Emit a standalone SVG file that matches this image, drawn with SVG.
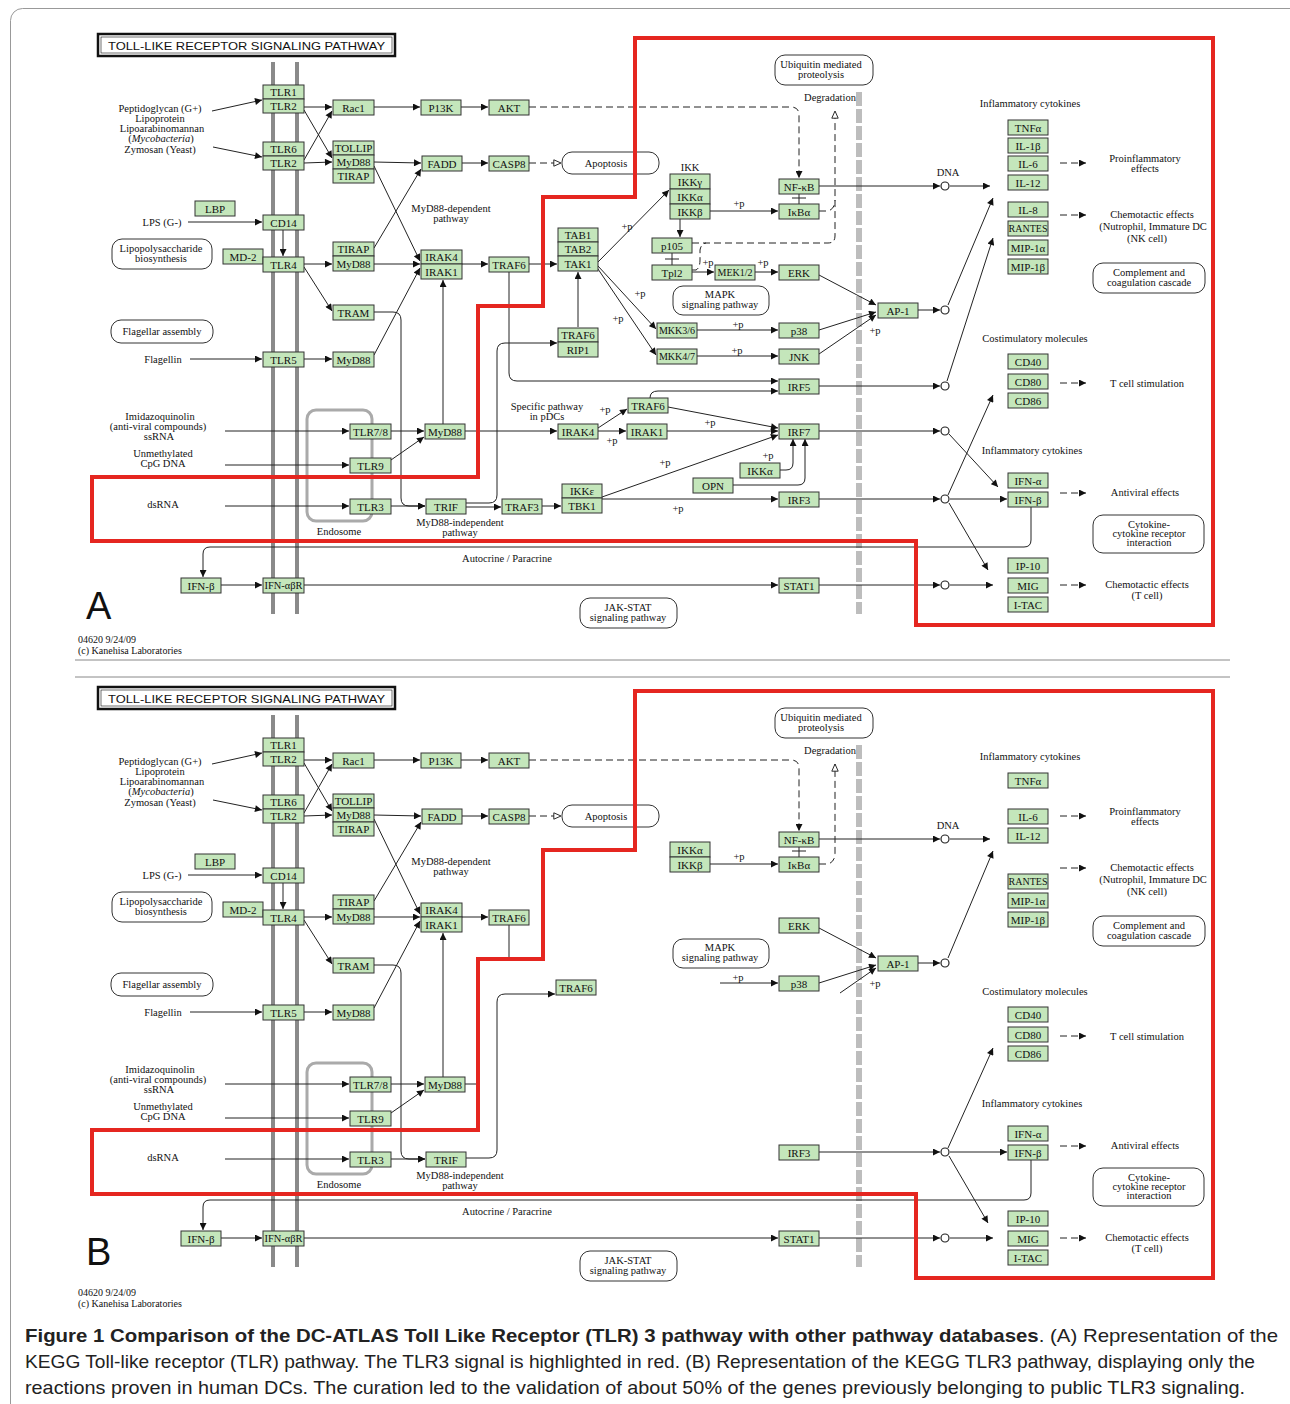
<svg xmlns="http://www.w3.org/2000/svg" width="1290" height="1404" viewBox="0 0 1290 1404">
<defs>
<style>
.n rect{fill:#c4e6bb;stroke:#333;stroke-width:1}
.n text{font-family:"Liberation Serif","DejaVu Serif",serif;font-size:11px;text-anchor:middle;fill:#111}
.n text.s{font-size:10px}
.lb{font-family:"Liberation Serif","DejaVu Serif",serif;font-size:10.5px;text-anchor:middle;fill:#111}
.rb rect{fill:#fff;stroke:#333;stroke-width:1}
.c path{fill:none;stroke:#222;stroke-width:1}
.c .ar{marker-end:url(#a)}
.c .ds{stroke-dasharray:7 4}
.c .op{marker-end:url(#o)}
.c circle{fill:#fff;stroke:#222;stroke-width:1.2}
.mem{stroke:#8a8a8a;stroke-width:4}
.gbar{stroke:#bdbdbd;stroke-width:6;stroke-dasharray:14 3}
.red{fill:none;stroke:#e52620;stroke-width:4}
.cap{font-family:"Liberation Sans","DejaVu Sans",sans-serif;font-size:19px;fill:#222}
</style>
<marker id="a" viewBox="0 0 10 10" refX="10" refY="5" markerWidth="8" markerHeight="7" orient="auto" markerUnits="userSpaceOnUse"><path d="M0,0 L10,5 L0,10 z" fill="#111"/></marker>
<marker id="o" viewBox="0 0 10 10" refX="10" refY="5" markerWidth="8" markerHeight="8" orient="auto" markerUnits="userSpaceOnUse"><path d="M1,1 L10,5 L1,9 z" fill="#fff" stroke="#222" stroke-width="1.2"/></marker>
</defs>
<rect x="0" y="0" width="1290" height="1404" fill="#fff"/>
<rect x="10.5" y="8.5" width="1300" height="1420" rx="12" fill="none" stroke="#999" stroke-width="1"/>
<line x1="75" y1="660" x2="1230" y2="660" stroke="#888" stroke-width="1"/>
<line x1="75" y1="677" x2="1230" y2="677" stroke="#888" stroke-width="1"/>

<!-- ================= PANEL A ================= -->
<g id="panelA">
<g id="A_title"><rect x="98" y="34" width="297" height="22" fill="#fff" stroke="#111" stroke-width="2.5"/><rect x="101" y="37" width="291" height="16" fill="none" stroke="#111" stroke-width="0.6"/><text x="108" y="49.5" font-family="Liberation Sans, DejaVu Sans, sans-serif" font-size="11.5" textLength="277" lengthAdjust="spacingAndGlyphs" fill="#111">TOLL-LIKE RECEPTOR SIGNALING PATHWAY</text></g>
<g id="A_membrane"><line class="mem" x1="273" y1="62" x2="273" y2="614"/><line class="mem" x1="297" y1="62" x2="297" y2="614"/></g>
<line id="A_nucbar" class="gbar" x1="859" y1="92" x2="859" y2="614"/>
<rect id="A_endosome" x="307" y="410" width="65" height="111" rx="9" fill="none" stroke="#aaa" stroke-width="3"/>

<g id="A_connectors" class="c">
<path class="ar" d="M212,111 L262,100"/>
<path class="ar" d="M213,147 L262,157"/>
<path class="ar" d="M304,107 L332,107"/>
<path class="ar" d="M304,110 L332,158"/>
<path class="ar" d="M304,160 L332,111"/>
<path class="ar" d="M304,163 L332,162"/>
<path class="ar" d="M374,107 L420,107"/>
<path class="ar" d="M461,107 L488,107"/>
<path class="ar ds" d="M529,107 L791,107 Q799,107 799,115 L799,178"/>
<path class="ar" d="M374,162 L421,163"/>
<path class="ar" d="M374,166 L420,261"/>
<path class="ar" d="M462,163 L488,163"/>
<path class="op ds" d="M529,163 L561,163"/>
<path class="ar" d="M188,222 L262,222"/>
<path class="ar" d="M283,230 L283,256"/>
<path class="ar" d="M304,264 L332,264"/>
<path class="ar" d="M304,267 L332,311"/>
<path class="ar" d="M374,248 L421,169"/>
<path class="ar" d="M374,264 L420,264"/>
<path class="ar" d="M374,355 L420,268"/>
<path class="ar" d="M374,312 L393,312 Q401,312 401,320 L401,498 Q401,506 409,506 L425,506"/>
<path class="ar" d="M190,359 L262,359"/>
<path class="ar" d="M304,359 L332,359"/>
<path class="ar" d="M443,424 L443,280"/>
<path class="ar" d="M465,431 L557,431"/>
<path class="ar" d="M225,431 L349,431"/>
<path class="ar" d="M225,465 L349,465"/>
<path class="ar" d="M225,506 L349,506"/>
<path class="ar" d="M391,431 L424,431"/>
<path class="ar" d="M391,460 L424,437"/>
<path class="ar" d="M391,506 L425,506"/>
<path class="ar" d="M466,507 L501,507"/>
<path class="ar" d="M466,503 L489,503 Q497,503 497,495 L497,351 Q497,343 505,343 L557,343"/>
<path class="ar" d="M542,506 L561,506"/>
<path class="ar" d="M462,264 L488,264"/>
<path class="ar" d="M529,264 L557,264"/>
<path class="ar" d="M509,272 L509,373 Q509,381 517,381 L778,381"/>
<path class="ar" d="M650,398 Q650,391 658,391 L778,391"/>
<path class="ar" d="M578,327 L578,272"/>
<path class="ar" d="M598,428 L627,409"/>
<path class="ar" d="M598,431 L626,431"/>
<path class="ar" d="M667,431 L778,431"/>
<path class="ar" d="M668,407 L778,428"/>
<path class="ar" d="M602,497 L778,435"/>
<path class="ar" d="M602,499 L778,499"/>
<path class="ar" d="M780,470 L786,470 Q793,470 793,463 L793,439"/>
<path class="ar" d="M733,485 L798,485 Q805,485 805,478 L805,439"/>
<path class="ar" d="M598,262 L669,190"/>
<path class="ar" d="M598,266 L656,329"/>
<path class="ar" d="M598,269 L656,355"/>
<path class="ar" d="M710,211 L778,211"/>
<path class="ar" d="M680,219 L680,237"/>
<path d="M672,253 L672,265 M665,259 L679,259"/>
<path class="op ds" d="M692,243 L828,243 Q835,243 835,236 L835,111"/>
<path class="ds" d="M692,270 L696,270 Q700,268 700,260 L700,250 Q701,244 706,243"/>
<path class="ds" d="M819,211 L828,211 Q835,209 835,200"/>
<path d="M799,194 L799,204 M792,198 L806,198"/>
<path class="ar" d="M819,186 L940,186"/>
<path class="ar" d="M950,186 L990,186"/>
<path class="ar" d="M692,272 L714,272"/>
<path class="ar" d="M755,272 L778,272"/>
<path class="ar" d="M819,275 L876,305"/>
<path class="ar" d="M819,330 L876,312"/>
<path class="ar" d="M819,354 L876,315"/>
<path class="ar" d="M697,330 L778,330"/>
<path class="ar" d="M697,356 L778,356"/>
<path class="ar" d="M918,310 L940,310"/>
<path class="ar" d="M948,305 L993,198"/>
<path class="ar" d="M947,381 L993,238"/>
<path class="ar" d="M819,386 L940,386"/>
<path class="ar" d="M819,431 L940,431"/>
<path class="ar" d="M949,434 L998,487"/>
<path class="ar" d="M819,499 L940,499"/>
<path class="ar" d="M950,499 L1007,499"/>
<path class="ar" d="M948,495 L993,395"/>
<path class="ar" d="M949,503 L988,570"/>
<path class="ar" d="M1031,507 L1031,540 Q1031,547 1024,547 L210,547 Q203,547 203,554 L203,577"/>
<path class="ar" d="M221,585 L262,585"/>
<path class="ar" d="M304,585 L778,585"/>
<path class="ar" d="M819,585 L940,585"/>
<path class="ar" d="M950,585 L993,585"/>
<path class="ar ds" d="M1060,163 L1086,163"/>
<path class="ar ds" d="M1060,215 L1086,215"/>
<path class="ar ds" d="M1060,383 L1086,383"/>
<path class="ar ds" d="M1060,493 L1086,493"/>
<path class="ar ds" d="M1060,585 L1086,585"/>
<circle cx="945" cy="186" r="4"/><circle cx="945" cy="310" r="4"/><circle cx="945" cy="386" r="4"/><circle cx="945" cy="431" r="4"/><circle cx="945" cy="499" r="4"/><circle cx="945" cy="585" r="4"/>
</g>

<g id="A_TLR1" class="n"><rect x="263" y="85" width="41" height="14"/><text x="283.5" y="96">TLR1</text></g>
<g id="A_TLR2a" class="n"><rect x="263" y="99" width="41" height="14"/><text x="283.5" y="110">TLR2</text></g>
<g id="A_TLR6" class="n"><rect x="263" y="142" width="41" height="14"/><text x="283.5" y="153">TLR6</text></g>
<g id="A_TLR2b" class="n"><rect x="263" y="156" width="41" height="14"/><text x="283.5" y="167">TLR2</text></g>
<g id="A_Rac1" class="n"><rect x="333" y="100" width="41" height="15"/><text x="353.5" y="111.5">Rac1</text></g>
<g id="A_TOLLIP" class="n"><rect x="333" y="141" width="41" height="14"/><text x="353.5" y="152">TOLLIP</text></g>
<g id="A_MyD88a" class="n"><rect x="333" y="155" width="41" height="14"/><text x="353.5" y="166">MyD88</text></g>
<g id="A_TIRAPa" class="n"><rect x="333" y="169" width="41" height="14"/><text x="353.5" y="180">TIRAP</text></g>
<g id="A_P13K" class="n"><rect x="421" y="100" width="40" height="15"/><text x="441" y="111.5">P13K</text></g>
<g id="A_AKT" class="n"><rect x="489" y="100" width="40" height="15"/><text x="509" y="111.5">AKT</text></g>
<g id="A_FADD" class="n"><rect x="422" y="156" width="40" height="15"/><text x="442" y="167.5">FADD</text></g>
<g id="A_CASP8" class="n"><rect x="489" y="156" width="40" height="15"/><text x="509" y="167.5">CASP8</text></g>
<g id="A_LBP" class="n"><rect x="195" y="201" width="40" height="15"/><text x="215" y="212.5">LBP</text></g>
<g id="A_CD14" class="n"><rect x="263" y="215" width="41" height="15"/><text x="283.5" y="226.5">CD14</text></g>
<g id="A_MD2" class="n"><rect x="223" y="249" width="40" height="15"/><text x="243" y="260.5">MD-2</text></g>
<g id="A_TLR4" class="n"><rect x="263" y="257" width="41" height="15"/><text x="283.5" y="268.5">TLR4</text></g>
<g id="A_TIRAPb" class="n"><rect x="333" y="242" width="41" height="14"/><text x="353.5" y="253">TIRAP</text></g>
<g id="A_MyD88b" class="n"><rect x="333" y="256" width="41" height="15"/><text x="353.5" y="267.5">MyD88</text></g>
<g id="A_IRAK4" class="n"><rect x="421" y="250" width="41" height="14"/><text x="441.5" y="261">IRAK4</text></g>
<g id="A_IRAK1" class="n"><rect x="421" y="264" width="41" height="15"/><text x="441.5" y="275.5">IRAK1</text></g>
<g id="A_TRAF6a" class="n"><rect x="489" y="257" width="40" height="15"/><text x="509" y="268.5">TRAF6</text></g>
<g id="A_TAB1" class="n"><rect x="558" y="228" width="40" height="14"/><text x="578" y="239">TAB1</text></g>
<g id="A_TAB2" class="n"><rect x="558" y="242" width="40" height="14"/><text x="578" y="253">TAB2</text></g>
<g id="A_TAK1" class="n"><rect x="558" y="256" width="40" height="15"/><text x="578" y="267.5">TAK1</text></g>
<g id="A_TRAM" class="n"><rect x="333" y="305" width="41" height="15"/><text x="353.5" y="316.5">TRAM</text></g>
<g id="A_TLR5" class="n"><rect x="263" y="352" width="41" height="15"/><text x="283.5" y="363.5">TLR5</text></g>
<g id="A_MyD88c" class="n"><rect x="333" y="352" width="41" height="15"/><text x="353.5" y="363.5">MyD88</text></g>
<g id="A_TRAF6b" class="n"><rect x="558" y="328" width="40" height="14"/><text x="578" y="339">TRAF6</text></g>
<g id="A_RIP1" class="n"><rect x="558" y="342" width="40" height="15"/><text x="578" y="353.5">RIP1</text></g>
<g id="A_TLR78" class="n"><rect x="350" y="424" width="41" height="15"/><text x="370.5" y="435.5">TLR7/8</text></g>
<g id="A_TLR9" class="n"><rect x="350" y="458" width="41" height="15"/><text x="370.5" y="469.5">TLR9</text></g>
<g id="A_TLR3" class="n"><rect x="350" y="499" width="41" height="15"/><text x="370.5" y="510.5">TLR3</text></g>
<g id="A_MyD88d" class="n"><rect x="425" y="424" width="40" height="15"/><text x="445" y="435.5">MyD88</text></g>
<g id="A_TRIF" class="n"><rect x="426" y="499" width="40" height="15"/><text x="446" y="510.5">TRIF</text></g>
<g id="A_TRAF3" class="n"><rect x="502" y="499" width="40" height="15"/><text x="522" y="510.5">TRAF3</text></g>
<g id="A_IKKe" class="n"><rect x="562" y="484" width="40" height="14"/><text x="582" y="495">IKKε</text></g>
<g id="A_TBK1" class="n"><rect x="562" y="498" width="40" height="15"/><text x="582" y="509.5">TBK1</text></g>
<g id="A_IRAK4b" class="n"><rect x="558" y="424" width="40" height="15"/><text x="578" y="435.5">IRAK4</text></g>
<g id="A_IRAK1b" class="n"><rect x="627" y="424" width="40" height="15"/><text x="647" y="435.5">IRAK1</text></g>
<g id="A_TRAF6c" class="n"><rect x="628" y="398" width="40" height="15"/><text x="648" y="409.5">TRAF6</text></g>
<g id="A_IRF5" class="n"><rect x="779" y="379" width="40" height="15"/><text x="799" y="390.5">IRF5</text></g>
<g id="A_IRF7" class="n"><rect x="779" y="424" width="40" height="15"/><text x="799" y="435.5">IRF7</text></g>
<g id="A_IKKa2" class="n"><rect x="740" y="463" width="40" height="15"/><text x="760" y="474.5">IKKα</text></g>
<g id="A_OPN" class="n"><rect x="693" y="478" width="40" height="15"/><text x="713" y="489.5">OPN</text></g>
<g id="A_IRF3" class="n"><rect x="779" y="492" width="40" height="15"/><text x="799" y="503.5">IRF3</text></g>
<g id="A_IKKg" class="n"><rect x="670" y="174" width="40" height="15"/><text x="690" y="185.5">IKKγ</text></g>
<g id="A_IKKa" class="n"><rect x="670" y="189" width="40" height="15"/><text x="690" y="200.5">IKKα</text></g>
<g id="A_IKKb" class="n"><rect x="670" y="204" width="40" height="15"/><text x="690" y="215.5">IKKβ</text></g>
<g id="A_NFkB" class="n"><rect x="779" y="179" width="40" height="15"/><text x="799" y="190.5">NF-κB</text></g>
<g id="A_IkBa" class="n"><rect x="779" y="204" width="40" height="15"/><text x="799" y="215.5">IκBα</text></g>
<g id="A_p105" class="n"><rect x="652" y="238" width="40" height="15"/><text x="672" y="249.5">p105</text></g>
<g id="A_Tpl2" class="n"><rect x="652" y="265" width="40" height="15"/><text x="672" y="276.5">Tpl2</text></g>
<g id="A_MEK12" class="n"><rect x="715" y="265" width="40" height="15"/><text class="s" x="735" y="276">MEK1/2</text></g>
<g id="A_ERK" class="n"><rect x="779" y="265" width="40" height="15"/><text x="799" y="276.5">ERK</text></g>
<g id="A_MKK36" class="n"><rect x="657" y="323" width="40" height="15"/><text class="s" x="677" y="334">MKK3/6</text></g>
<g id="A_MKK47" class="n"><rect x="657" y="349" width="40" height="15"/><text class="s" x="677" y="360">MKK4/7</text></g>
<g id="A_p38" class="n"><rect x="779" y="323" width="40" height="15"/><text x="799" y="334.5">p38</text></g>
<g id="A_JNK" class="n"><rect x="779" y="349" width="40" height="15"/><text x="799" y="360.5">JNK</text></g>
<g id="A_AP1" class="n"><rect x="878" y="303" width="40" height="15"/><text x="898" y="314.5">AP-1</text></g>
<g id="A_TNFa" class="n"><rect x="1008" y="120" width="40" height="15"/><text x="1028" y="131.5">TNFα</text></g>
<g id="A_IL1b" class="n"><rect x="1008" y="138" width="40" height="15"/><text x="1028" y="149.5">IL-1β</text></g>
<g id="A_IL6" class="n"><rect x="1008" y="156" width="40" height="15"/><text x="1028" y="167.5">IL-6</text></g>
<g id="A_IL12" class="n"><rect x="1008" y="175" width="40" height="15"/><text x="1028" y="186.5">IL-12</text></g>
<g id="A_IL8" class="n"><rect x="1008" y="202" width="40" height="15"/><text x="1028" y="213.5">IL-8</text></g>
<g id="A_RANTES" class="n"><rect x="1008" y="221" width="40" height="15"/><text class="s" x="1028" y="232">RANTES</text></g>
<g id="A_MIP1a" class="n"><rect x="1008" y="240" width="40" height="15"/><text x="1028" y="251.5">MIP-1α</text></g>
<g id="A_MIP1b" class="n"><rect x="1008" y="259" width="40" height="15"/><text x="1028" y="270.5">MIP-1β</text></g>
<g id="A_CD40" class="n"><rect x="1008" y="354" width="40" height="15"/><text x="1028" y="365.5">CD40</text></g>
<g id="A_CD80" class="n"><rect x="1008" y="374" width="40" height="15"/><text x="1028" y="385.5">CD80</text></g>
<g id="A_CD86" class="n"><rect x="1008" y="393" width="40" height="15"/><text x="1028" y="404.5">CD86</text></g>
<g id="A_IFNa" class="n"><rect x="1008" y="473" width="40" height="15"/><text x="1028" y="484.5">IFN-α</text></g>
<g id="A_IFNb" class="n"><rect x="1008" y="492" width="40" height="15"/><text x="1028" y="503.5">IFN-β</text></g>
<g id="A_IP10" class="n"><rect x="1008" y="558" width="40" height="15"/><text x="1028" y="569.5">IP-10</text></g>
<g id="A_MIG" class="n"><rect x="1008" y="578" width="40" height="15"/><text x="1028" y="589.5">MIG</text></g>
<g id="A_ITAC" class="n"><rect x="1008" y="597" width="40" height="15"/><text x="1028" y="608.5">I-TAC</text></g>
<g id="A_IFNb2" class="n"><rect x="181" y="578" width="40" height="15"/><text x="201" y="589.5">IFN-β</text></g>
<g id="A_IFNabR" class="n"><rect x="263" y="578" width="41" height="15"/><text class="s" x="283.5" y="589" textLength="38" lengthAdjust="spacingAndGlyphs">IFN-αβR</text></g>
<g id="A_STAT1" class="n"><rect x="779" y="578" width="40" height="15"/><text x="799" y="589.5">STAT1</text></g>

<g id="A_maps" class="rb">
<g id="A_apoptosis"><rect x="562" y="152" width="97" height="22" rx="10"/><text class="lb" x="606" y="166.5">Apoptosis</text></g>
<g id="A_ubiq"><rect x="775" y="55" width="98" height="30" rx="10"/><text class="lb" x="821" y="68">Ubiquitin mediated</text><text class="lb" x="821" y="78">proteolysis</text></g>
<g id="A_mapk"><rect x="673" y="286" width="96" height="29" rx="10"/><text class="lb" x="720" y="298">MAPK</text><text class="lb" x="720" y="308">signaling pathway</text></g>
<g id="A_lps"><rect x="112" y="239" width="100" height="30" rx="10"/><text class="lb" x="161" y="252">Lipopolysaccharide</text><text class="lb" x="161" y="262">biosynthesis</text></g>
<g id="A_flag"><rect x="111" y="320" width="102" height="23" rx="10"/><text class="lb" x="162" y="335">Flagellar assembly</text></g>
<g id="A_compl"><rect x="1093" y="263" width="112" height="30" rx="10"/><text class="lb" x="1149" y="276">Complement and</text><text class="lb" x="1149" y="286">coagulation cascade</text></g>
<g id="A_ccri"><rect x="1093" y="515" width="111" height="38" rx="10"/><text class="lb" x="1149" y="528">Cytokine-</text><text class="lb" x="1149" y="537">cytokine receptor</text><text class="lb" x="1149" y="546">interaction</text></g>
<g id="A_jak"><rect x="580" y="598" width="97" height="30" rx="10"/><text class="lb" x="628" y="611">JAK-STAT</text><text class="lb" x="628" y="621">signaling pathway</text></g>
</g>

<g id="A_labels" class="lb">
<text x="160" y="112">Peptidoglycan (G+)</text>
<text x="160" y="122">Lipoprotein</text>
<text x="162" y="132">Lipoarabinomannan</text>
<text x="161" y="142">(<tspan font-style="italic">Mycobacteria</tspan>)</text>
<text x="160" y="153">Zymosan (Yeast)</text>
<text x="162" y="226">LPS (G-)</text>
<text x="163" y="363">Flagellin</text>
<text x="160" y="420">Imidazoquinolin</text>
<text x="158" y="430">(anti-viral compounds)</text>
<text x="159" y="440">ssRNA</text>
<text x="163" y="457">Unmethylated</text>
<text x="163" y="467">CpG DNA</text>
<text x="163" y="508">dsRNA</text>
<text x="339" y="535">Endosome</text>
<text x="460" y="526">MyD88-independent</text>
<text x="460" y="536">pathway</text>
<text x="451" y="212">MyD88-dependent</text>
<text x="451" y="222">pathway</text>
<text x="547" y="410">Specific pathway</text>
<text x="547" y="420">in pDCs</text>
<text x="690" y="171">IKK</text>
<text x="830" y="101">Degradation</text>
<text x="948" y="176">DNA</text>
<text x="507" y="562">Autocrine / Paracrine</text>
<text x="1030" y="107">Inflammatory cytokines</text>
<text x="1145" y="162">Proinflammatory</text>
<text x="1145" y="172">effects</text>
<text x="1152" y="218">Chemotactic effects</text>
<text x="1153" y="230">(Nutrophil, Immature DC</text>
<text x="1147" y="242">(NK cell)</text>
<text x="1035" y="342">Costimulatory molecules</text>
<text x="1147" y="387">T cell stimulation</text>
<text x="1032" y="454">Inflammatory cytokines</text>
<text x="1145" y="496">Antiviral effects</text>
<text x="1147" y="588">Chemotactic effects</text>
<text x="1147" y="599">(T cell)</text>
<text x="627" y="230">+p</text>
<text x="739" y="207">+p</text>
<text x="640" y="297">+p</text>
<text x="618" y="322">+p</text>
<text x="708" y="266">+p</text>
<text x="763" y="266">+p</text>
<text x="738" y="328">+p</text>
<text x="737" y="354">+p</text>
<text x="875" y="334">+p</text>
<text x="605" y="413">+p</text>
<text x="612" y="444">+p</text>
<text x="710" y="426">+p</text>
<text x="768" y="459">+p</text>
<text x="665" y="466">+p</text>
<text x="678" y="512">+p</text>
</g>
<text id="A_letter" x="86" y="619" font-family="Liberation Sans, DejaVu Sans, sans-serif" font-size="38" fill="#111">A</text>
<g id="A_footer" font-family="Liberation Serif, serif" font-size="10" fill="#111"><text x="78" y="643">04620 9/24/09</text><text x="78" y="654">(c) Kanehisa Laboratories</text></g>
<path id="A_red" class="red" d="M635,38 L1213,38 L1213,625 L916,625 L916,541 L92,541 L92,477 L478,477 L478,306 L543,306 L543,197 L635,197 Z"/>
</g>

<!-- ================= PANEL B ================= -->
<g id="panelB" transform="translate(0,653)">
<g id="B_title"><rect x="98" y="34" width="297" height="22" fill="#fff" stroke="#111" stroke-width="2.5"/><rect x="101" y="37" width="291" height="16" fill="none" stroke="#111" stroke-width="0.6"/><text x="108" y="49.5" font-family="Liberation Sans, DejaVu Sans, sans-serif" font-size="11.5" textLength="277" lengthAdjust="spacingAndGlyphs" fill="#111">TOLL-LIKE RECEPTOR SIGNALING PATHWAY</text></g>
<g id="B_membrane"><line class="mem" x1="273" y1="62" x2="273" y2="614"/><line class="mem" x1="297" y1="62" x2="297" y2="614"/></g>
<line id="B_nucbar" class="gbar" x1="859" y1="92" x2="859" y2="614"/>
<rect id="B_endosome" x="307" y="410" width="65" height="111" rx="9" fill="none" stroke="#aaa" stroke-width="3"/>

<g id="B_connectors" class="c">
<path class="ar" d="M212,111 L262,100"/>
<path class="ar" d="M213,147 L262,157"/>
<path class="ar" d="M304,107 L332,107"/>
<path class="ar" d="M304,110 L332,158"/>
<path class="ar" d="M304,160 L332,111"/>
<path class="ar" d="M304,163 L332,162"/>
<path class="ar" d="M374,107 L420,107"/>
<path class="ar" d="M461,107 L488,107"/>
<path class="ar ds" d="M529,107 L791,107 Q799,107 799,115 L799,178"/>
<path class="ar" d="M374,162 L421,163"/>
<path class="ar" d="M374,166 L420,261"/>
<path class="ar" d="M462,163 L488,163"/>
<path class="op ds" d="M529,163 L561,163"/>
<path class="ar" d="M188,222 L262,222"/>
<path class="ar" d="M283,230 L283,256"/>
<path class="ar" d="M304,264 L332,264"/>
<path class="ar" d="M304,267 L332,311"/>
<path class="ar" d="M374,248 L421,169"/>
<path class="ar" d="M374,264 L420,264"/>
<path class="ar" d="M374,355 L420,268"/>
<path class="ar" d="M374,312 L393,312 Q401,312 401,320 L401,498 Q401,506 409,506 L425,506"/>
<path class="ar" d="M190,359 L262,359"/>
<path class="ar" d="M304,359 L332,359"/>
<path class="ar" d="M443,424 L443,280"/>
<path d="M465,431 L477,431"/>
<path class="ar" d="M225,431 L349,431"/>
<path class="ar" d="M225,465 L349,465"/>
<path class="ar" d="M225,506 L349,506"/>
<path class="ar" d="M391,431 L424,431"/>
<path class="ar" d="M391,460 L424,437"/>
<path class="ar" d="M391,506 L425,506"/>
<path class="ar" d="M466,505 L489,505 Q497,505 497,497 L497,349 Q497,341 505,341 L555,341"/>
<path class="ar" d="M462,264 L488,264"/>
<path d="M509,272 L509,305"/>
<path class="ar" d="M710,211 L778,211"/>
<path class="op ds" d="M819,211 L828,211 Q835,209 835,200 L835,111"/>
<path d="M799,194 L799,204 M792,198 L806,198"/>
<path class="ar" d="M819,186 L940,186"/>
<path class="ar" d="M950,186 L990,186"/>
<path class="ar" d="M819,275 L876,305"/>
<path class="ar" d="M819,330 L876,312"/>
<path class="ar" d="M840,340 L876,315"/>
<path class="ar" d="M720,330 L778,330"/>
<path class="ar" d="M918,310 L940,310"/>
<path class="ar" d="M948,305 L993,198"/>
<path class="ar" d="M819,499 L940,499"/>
<path class="ar" d="M950,499 L1007,499"/>
<path class="ar" d="M948,495 L993,395"/>
<path class="ar" d="M949,503 L988,570"/>
<path class="ar" d="M1031,507 L1031,540 Q1031,547 1024,547 L210,547 Q203,547 203,554 L203,577"/>
<path class="ar" d="M221,585 L262,585"/>
<path class="ar" d="M304,585 L778,585"/>
<path class="ar" d="M819,585 L940,585"/>
<path class="ar" d="M950,585 L993,585"/>
<path class="ar ds" d="M1060,163 L1086,163"/>
<path class="ar ds" d="M1060,215 L1086,215"/>
<path class="ar ds" d="M1060,383 L1086,383"/>
<path class="ar ds" d="M1060,493 L1086,493"/>
<path class="ar ds" d="M1060,585 L1086,585"/>
<circle cx="945" cy="186" r="4"/><circle cx="945" cy="310" r="4"/><circle cx="945" cy="499" r="4"/><circle cx="945" cy="585" r="4"/>
</g>

<g id="B_TLR1" class="n"><rect x="263" y="85" width="41" height="14"/><text x="283.5" y="96">TLR1</text></g>
<g id="B_TLR2a" class="n"><rect x="263" y="99" width="41" height="14"/><text x="283.5" y="110">TLR2</text></g>
<g id="B_TLR6" class="n"><rect x="263" y="142" width="41" height="14"/><text x="283.5" y="153">TLR6</text></g>
<g id="B_TLR2b" class="n"><rect x="263" y="156" width="41" height="14"/><text x="283.5" y="167">TLR2</text></g>
<g id="B_Rac1" class="n"><rect x="333" y="100" width="41" height="15"/><text x="353.5" y="111.5">Rac1</text></g>
<g id="B_TOLLIP" class="n"><rect x="333" y="141" width="41" height="14"/><text x="353.5" y="152">TOLLIP</text></g>
<g id="B_MyD88a" class="n"><rect x="333" y="155" width="41" height="14"/><text x="353.5" y="166">MyD88</text></g>
<g id="B_TIRAPa" class="n"><rect x="333" y="169" width="41" height="14"/><text x="353.5" y="180">TIRAP</text></g>
<g id="B_P13K" class="n"><rect x="421" y="100" width="40" height="15"/><text x="441" y="111.5">P13K</text></g>
<g id="B_AKT" class="n"><rect x="489" y="100" width="40" height="15"/><text x="509" y="111.5">AKT</text></g>
<g id="B_FADD" class="n"><rect x="422" y="156" width="40" height="15"/><text x="442" y="167.5">FADD</text></g>
<g id="B_CASP8" class="n"><rect x="489" y="156" width="40" height="15"/><text x="509" y="167.5">CASP8</text></g>
<g id="B_LBP" class="n"><rect x="195" y="201" width="40" height="15"/><text x="215" y="212.5">LBP</text></g>
<g id="B_CD14" class="n"><rect x="263" y="215" width="41" height="15"/><text x="283.5" y="226.5">CD14</text></g>
<g id="B_MD2" class="n"><rect x="223" y="249" width="40" height="15"/><text x="243" y="260.5">MD-2</text></g>
<g id="B_TLR4" class="n"><rect x="263" y="257" width="41" height="15"/><text x="283.5" y="268.5">TLR4</text></g>
<g id="B_TIRAPb" class="n"><rect x="333" y="242" width="41" height="14"/><text x="353.5" y="253">TIRAP</text></g>
<g id="B_MyD88b" class="n"><rect x="333" y="256" width="41" height="15"/><text x="353.5" y="267.5">MyD88</text></g>
<g id="B_IRAK4" class="n"><rect x="421" y="250" width="41" height="14"/><text x="441.5" y="261">IRAK4</text></g>
<g id="B_IRAK1" class="n"><rect x="421" y="264" width="41" height="15"/><text x="441.5" y="275.5">IRAK1</text></g>
<g id="B_TRAF6a" class="n"><rect x="489" y="257" width="40" height="15"/><text x="509" y="268.5">TRAF6</text></g>
<g id="B_TRAM" class="n"><rect x="333" y="305" width="41" height="15"/><text x="353.5" y="316.5">TRAM</text></g>
<g id="B_TLR5" class="n"><rect x="263" y="352" width="41" height="15"/><text x="283.5" y="363.5">TLR5</text></g>
<g id="B_MyD88c" class="n"><rect x="333" y="352" width="41" height="15"/><text x="353.5" y="363.5">MyD88</text></g>
<g id="B_TRAF6b" class="n"><rect x="556" y="327" width="40" height="15"/><text x="576" y="338.5">TRAF6</text></g>
<g id="B_TLR78" class="n"><rect x="350" y="424" width="41" height="15"/><text x="370.5" y="435.5">TLR7/8</text></g>
<g id="B_TLR9" class="n"><rect x="350" y="458" width="41" height="15"/><text x="370.5" y="469.5">TLR9</text></g>
<g id="B_TLR3" class="n"><rect x="350" y="499" width="41" height="15"/><text x="370.5" y="510.5">TLR3</text></g>
<g id="B_MyD88d" class="n"><rect x="425" y="424" width="40" height="15"/><text x="445" y="435.5">MyD88</text></g>
<g id="B_TRIF" class="n"><rect x="426" y="499" width="40" height="15"/><text x="446" y="510.5">TRIF</text></g>
<g id="B_IRF3" class="n"><rect x="779" y="492" width="40" height="15"/><text x="799" y="503.5">IRF3</text></g>
<g id="B_IKKa" class="n"><rect x="670" y="189" width="40" height="15"/><text x="690" y="200.5">IKKα</text></g>
<g id="B_IKKb" class="n"><rect x="670" y="204" width="40" height="15"/><text x="690" y="215.5">IKKβ</text></g>
<g id="B_NFkB" class="n"><rect x="779" y="179" width="40" height="15"/><text x="799" y="190.5">NF-κB</text></g>
<g id="B_IkBa" class="n"><rect x="779" y="204" width="40" height="15"/><text x="799" y="215.5">IκBα</text></g>
<g id="B_ERK" class="n"><rect x="779" y="265" width="40" height="15"/><text x="799" y="276.5">ERK</text></g>
<g id="B_p38" class="n"><rect x="779" y="323" width="40" height="15"/><text x="799" y="334.5">p38</text></g>
<g id="B_AP1" class="n"><rect x="878" y="303" width="40" height="15"/><text x="898" y="314.5">AP-1</text></g>
<g id="B_TNFa" class="n"><rect x="1008" y="120" width="40" height="15"/><text x="1028" y="131.5">TNFα</text></g>
<g id="B_IL6" class="n"><rect x="1008" y="156" width="40" height="15"/><text x="1028" y="167.5">IL-6</text></g>
<g id="B_IL12" class="n"><rect x="1008" y="175" width="40" height="15"/><text x="1028" y="186.5">IL-12</text></g>
<g id="B_RANTES" class="n"><rect x="1008" y="221" width="40" height="15"/><text class="s" x="1028" y="232">RANTES</text></g>
<g id="B_MIP1a" class="n"><rect x="1008" y="240" width="40" height="15"/><text x="1028" y="251.5">MIP-1α</text></g>
<g id="B_MIP1b" class="n"><rect x="1008" y="259" width="40" height="15"/><text x="1028" y="270.5">MIP-1β</text></g>
<g id="B_CD40" class="n"><rect x="1008" y="354" width="40" height="15"/><text x="1028" y="365.5">CD40</text></g>
<g id="B_CD80" class="n"><rect x="1008" y="374" width="40" height="15"/><text x="1028" y="385.5">CD80</text></g>
<g id="B_CD86" class="n"><rect x="1008" y="393" width="40" height="15"/><text x="1028" y="404.5">CD86</text></g>
<g id="B_IFNa" class="n"><rect x="1008" y="473" width="40" height="15"/><text x="1028" y="484.5">IFN-α</text></g>
<g id="B_IFNb" class="n"><rect x="1008" y="492" width="40" height="15"/><text x="1028" y="503.5">IFN-β</text></g>
<g id="B_IP10" class="n"><rect x="1008" y="558" width="40" height="15"/><text x="1028" y="569.5">IP-10</text></g>
<g id="B_MIG" class="n"><rect x="1008" y="578" width="40" height="15"/><text x="1028" y="589.5">MIG</text></g>
<g id="B_ITAC" class="n"><rect x="1008" y="597" width="40" height="15"/><text x="1028" y="608.5">I-TAC</text></g>
<g id="B_IFNb2" class="n"><rect x="181" y="578" width="40" height="15"/><text x="201" y="589.5">IFN-β</text></g>
<g id="B_IFNabR" class="n"><rect x="263" y="578" width="41" height="15"/><text class="s" x="283.5" y="589" textLength="38" lengthAdjust="spacingAndGlyphs">IFN-αβR</text></g>
<g id="B_STAT1" class="n"><rect x="779" y="578" width="40" height="15"/><text x="799" y="589.5">STAT1</text></g>

<g id="B_maps" class="rb">
<g id="B_apoptosis"><rect x="562" y="152" width="97" height="22" rx="10"/><text class="lb" x="606" y="166.5">Apoptosis</text></g>
<g id="B_ubiq"><rect x="775" y="55" width="98" height="30" rx="10"/><text class="lb" x="821" y="68">Ubiquitin mediated</text><text class="lb" x="821" y="78">proteolysis</text></g>
<g id="B_mapk"><rect x="673" y="286" width="96" height="29" rx="10"/><text class="lb" x="720" y="298">MAPK</text><text class="lb" x="720" y="308">signaling pathway</text></g>
<g id="B_lps"><rect x="112" y="239" width="100" height="30" rx="10"/><text class="lb" x="161" y="252">Lipopolysaccharide</text><text class="lb" x="161" y="262">biosynthesis</text></g>
<g id="B_flag"><rect x="111" y="320" width="102" height="23" rx="10"/><text class="lb" x="162" y="335">Flagellar assembly</text></g>
<g id="B_compl"><rect x="1093" y="263" width="112" height="30" rx="10"/><text class="lb" x="1149" y="276">Complement and</text><text class="lb" x="1149" y="286">coagulation cascade</text></g>
<g id="B_ccri"><rect x="1093" y="515" width="111" height="38" rx="10"/><text class="lb" x="1149" y="528">Cytokine-</text><text class="lb" x="1149" y="537">cytokine receptor</text><text class="lb" x="1149" y="546">interaction</text></g>
<g id="B_jak"><rect x="580" y="598" width="97" height="30" rx="10"/><text class="lb" x="628" y="611">JAK-STAT</text><text class="lb" x="628" y="621">signaling pathway</text></g>
</g>

<g id="B_labels" class="lb">
<text x="160" y="112">Peptidoglycan (G+)</text>
<text x="160" y="122">Lipoprotein</text>
<text x="162" y="132">Lipoarabinomannan</text>
<text x="161" y="142">(<tspan font-style="italic">Mycobacteria</tspan>)</text>
<text x="160" y="153">Zymosan (Yeast)</text>
<text x="162" y="226">LPS (G-)</text>
<text x="163" y="363">Flagellin</text>
<text x="160" y="420">Imidazoquinolin</text>
<text x="158" y="430">(anti-viral compounds)</text>
<text x="159" y="440">ssRNA</text>
<text x="163" y="457">Unmethylated</text>
<text x="163" y="467">CpG DNA</text>
<text x="163" y="508">dsRNA</text>
<text x="339" y="535">Endosome</text>
<text x="460" y="526">MyD88-independent</text>
<text x="460" y="536">pathway</text>
<text x="451" y="212">MyD88-dependent</text>
<text x="451" y="222">pathway</text>
<text x="830" y="101">Degradation</text>
<text x="948" y="176">DNA</text>
<text x="507" y="562">Autocrine / Paracrine</text>
<text x="1030" y="107">Inflammatory cytokines</text>
<text x="1145" y="162">Proinflammatory</text>
<text x="1145" y="172">effects</text>
<text x="1152" y="218">Chemotactic effects</text>
<text x="1153" y="230">(Nutrophil, Immature DC</text>
<text x="1147" y="242">(NK cell)</text>
<text x="1035" y="342">Costimulatory molecules</text>
<text x="1147" y="387">T cell stimulation</text>
<text x="1032" y="454">Inflammatory cytokines</text>
<text x="1145" y="496">Antiviral effects</text>
<text x="1147" y="588">Chemotactic effects</text>
<text x="1147" y="599">(T cell)</text>
<text x="739" y="207">+p</text>
<text x="738" y="328">+p</text>
<text x="875" y="334">+p</text>
</g>
<text id="B_letter" x="86" y="612" font-family="Liberation Sans, DejaVu Sans, sans-serif" font-size="38" fill="#111">B</text>
<g id="B_footer" font-family="Liberation Serif, serif" font-size="10" fill="#111"><text x="78" y="643">04620 9/24/09</text><text x="78" y="654">(c) Kanehisa Laboratories</text></g>
<path id="B_red" class="red" d="M635,38 L1213,38 L1213,625 L916,625 L916,541 L92,541 L92,477 L478,477 L478,306 L543,306 L543,197 L635,197 Z"/>
</g>

<g id="caption" class="cap">
<text x="25" y="1342" textLength="1253" lengthAdjust="spacingAndGlyphs"><tspan font-weight="bold">Figure 1 Comparison of the DC-ATLAS Toll Like Receptor (TLR) 3 pathway with other pathway databases</tspan>. (A) Representation of the</text>
<text x="25" y="1368" textLength="1230" lengthAdjust="spacingAndGlyphs">KEGG Toll-like receptor (TLR) pathway. The TLR3 signal is highlighted in red. (B) Representation of the KEGG TLR3 pathway, displaying only the</text>
<text x="25" y="1394" textLength="1220" lengthAdjust="spacingAndGlyphs">reactions proven in human DCs. The curation led to the validation of about 50% of the genes previously belonging to public TLR3 signaling.</text>
</g>
</svg>
